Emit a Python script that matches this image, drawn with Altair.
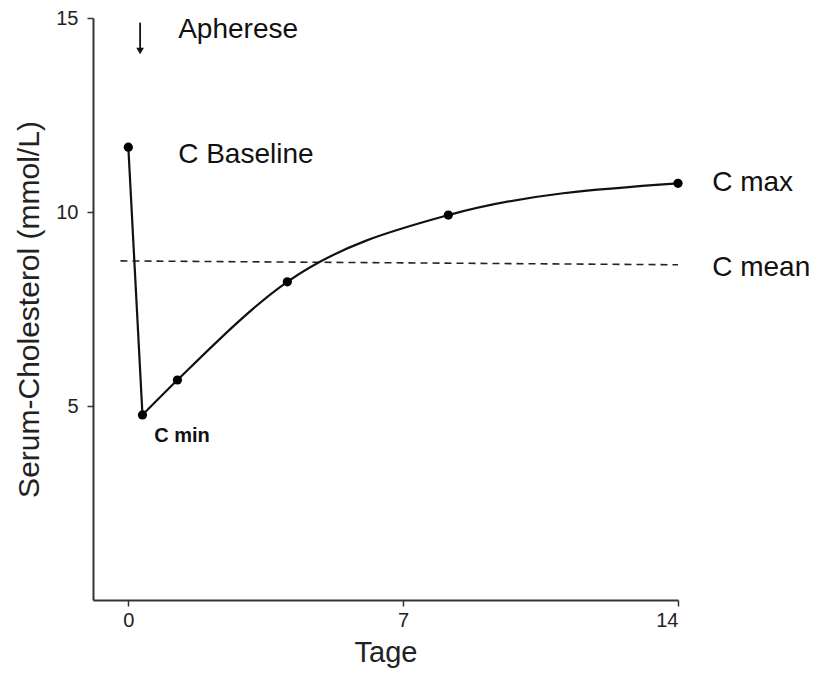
import altair as alt
import pandas as pd

# data
days = [0.0, 0.36, 1.25, 4.05, 8.15, 14.0]
chol = [11.67, 4.77, 5.67, 8.2, 9.92, 10.74]

mean_x = [-0.2, 14.0]
mean_y = [8.74, 8.64]

labels = ["Apherese", "C Baseline", "C max", "C mean"]
label_x = [1.27, 1.27, 14.87, 14.87]
label_y = [14.68, 11.46, 10.74, 8.56]

cmin_label = "C min"
cmin_x, cmin_y = 0.66, 4.22

arrow_x = 0.3
arrow_top, arrow_bottom = 14.88, 14.15

pts = pd.DataFrame({"x": days, "y": chol})
drop = pts.iloc[:2]
rise = pts.iloc[1:]
mean_df = pd.DataFrame({"x": mean_x, "y": mean_y})
lab_df = pd.DataFrame({"x": label_x, "y": label_y, "t": labels})
cmin_df = pd.DataFrame({"x": [cmin_x], "y": [cmin_y], "t": [cmin_label]})
arrow_df = pd.DataFrame({"x": [arrow_x], "y": [arrow_top], "y2": [arrow_bottom]})

FONT = "Liberation Sans"
xs = alt.Scale(domain=[-0.9, 14], nice=False, zero=False)
ys = alt.Scale(domain=[0, 15], nice=False, zero=False)
X = alt.X("x:Q", scale=xs, title="Tage",
          axis=alt.Axis(values=[0, 7, 14], titlePadding=8, labelPadding=4, titleFontSize=29))
Y = alt.Y("y:Q", scale=ys, title="Serum-Cholesterol (mmol/L)",
          axis=alt.Axis(values=[5, 10, 15], titlePadding=11, labelPadding=9, titleFontSize=30))

line1 = alt.Chart(drop).mark_line(color="#111", strokeWidth=2.2).encode(x=X, y=Y)
line2 = alt.Chart(rise).mark_line(color="#111", strokeWidth=2.2, interpolate="monotone").encode(x="x:Q", y="y:Q")
points = alt.Chart(pts).mark_point(filled=True, color="#000", size=85, opacity=1).encode(x="x:Q", y="y:Q")
mean_line = alt.Chart(mean_df).mark_line(color="#222", strokeWidth=1.6, strokeDash=[7, 5]).encode(x="x:Q", y="y:Q")
texts = alt.Chart(lab_df).mark_text(align="left", baseline="middle", fontSize=28, font=FONT,
                                    color="#111").encode(x="x:Q", y="y:Q", text="t:N")
cmin = alt.Chart(cmin_df).mark_text(align="left", baseline="middle", fontSize=20, font=FONT,
                                    fontWeight="bold", color="#111").encode(x="x:Q", y="y:Q", text="t:N")
arrow_shaft = alt.Chart(arrow_df).mark_rule(color="#111", strokeWidth=1.8).encode(x="x:Q", y="y:Q", y2="y2:Q")
arrow_head = alt.Chart(arrow_df).mark_point(shape="triangle-down", filled=True, color="#111", size=60,
                                            opacity=1).encode(x="x:Q", y="y2:Q")

chart = alt.layer(mean_line, line1, line2, points, texts, cmin, arrow_shaft, arrow_head).properties(
    width=585, height=582,
    autosize=alt.AutoSizeParams(type="none"),
    padding={"left": 85, "top": 10, "right": 134, "bottom": 69},
).configure(background="white").configure_view(stroke=None).configure_axis(
    grid=False, domainColor="#333", domainWidth=2, tickColor="#333", tickWidth=1.5, tickSize=6,
    labelFontSize=20, labelColor="#222", titleFontWeight="normal",
    titleColor="#222", labelFont=FONT, titleFont=FONT,
)

chart.save("out.html", embed_options={"renderer": "svg", "actions": False})
